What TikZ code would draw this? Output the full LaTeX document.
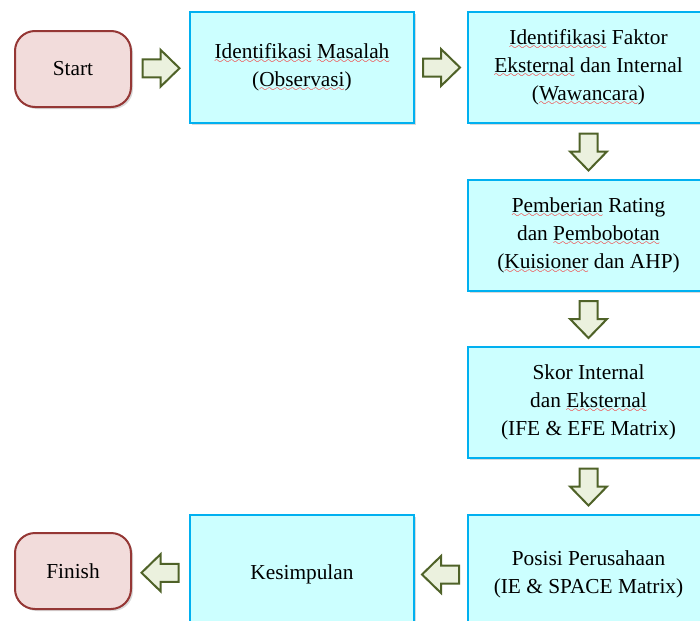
\documentclass[tikz,border=0pt]{standalone}
\usepackage{fontspec}
\setmainfont{Liberation Serif}
\usetikzlibrary{shadows,calc}

\definecolor{boxfill}{RGB}{204,255,255}
\definecolor{boxline}{RGB}{0,176,240}
\definecolor{termfill}{RGB}{242,220,219}
\definecolor{termline}{RGB}{149,55,53}
\definecolor{arrfill}{RGB}{235,241,222}
\definecolor{arrline}{RGB}{79,98,40}

% red wavy underline of the spell checker
\font\wavefont=lasy7
\newcommand{\typo}[1]{\setbox0\hbox{#1}\leavevmode\rlap{\lower3.4pt\hbox to \wd0{\color{red}\xleaders\hbox{\wavefont\char58}\hfil}}\box0\relax}

\tikzset{
  stepbox/.style={draw=boxline, fill=boxfill, line width=1.5pt, align=center,
    inner sep=0pt, minimum height=83.25pt,
    drop shadow={shadow xshift=1.5pt, shadow yshift=-1.5pt, opacity=0.3}},
  endbox/.style={draw=termline, fill=termfill, line width=1.5pt, rounded corners=15pt,
    inner sep=0pt, minimum width=87pt, minimum height=57pt,
    drop shadow={shadow xshift=1.5pt, shadow yshift=-1.5pt, opacity=0.3}},
  blockarrow/.pic={
    \draw[draw=arrline, fill=arrfill, line width=1.5pt, line join=miter]
      (-18,-9) -- (0,-9) -- (0,-18.5) -- (19,0) -- (0,18.5) -- (0,9) -- (-18,9) -- cycle;
  }
}

\begin{document}
\begin{tikzpicture}[x=0.75pt,y=0.75pt,yscale=-1,xscale=1,
  every node/.style={font=\fontsize{16}{21}\selectfont}]
	\useasboundingbox (0,0) rectangle (700,621);
	\clip (0,0) rectangle (700,621);
	% top row
	\node[endbox] (start) at (73,69) {Start};
	\node[stepbox, minimum width=168pt] (masalah) at (302,67.5) {\typo{Identifikasi} \typo{Masalah}\\(\typo{Observasi})};
	\node[stepbox, minimum width=180.75pt] (faktor) at (588.5,67.5) {\typo{Identifikasi} Faktor\\\typo{Eksternal} dan Internal\\(\typo{Wawancara})};
	% right column
	\node[stepbox, minimum width=180.75pt] (rating) at (588.5,235.5) {\typo{Pemberian} Rating\\dan \typo{Pembobotan}\\(\typo{Kuisioner} dan AHP)};
	\node[stepbox, minimum width=180.75pt] (skor) at (588.5,402.5) {Skor Internal\\dan \typo{Eksternal}\\(IFE \& EFE Matrix)};
	\node[stepbox, minimum width=180.75pt, minimum height=89.25pt] (posisi) at (588.5,574.5) {Posisi Perusahaan\\(IE \& SPACE Matrix)};
	% bottom row
	\node[stepbox, minimum width=168pt, minimum height=89.25pt] (simpul) at (302,574.5) {Kesimpulan};
	\node[endbox] (finish) at (73,571) {Finish};
	% block arrows
	\pic at ($(start.east)!0.5!(masalah.west)$) {blockarrow};
	\pic at ($(masalah.east)!0.5!(faktor.west)$) {blockarrow};
	\pic[rotate=-90] at ($(faktor.south)!0.5!(rating.north)$) {blockarrow};
	\pic[rotate=-90] at ($(rating.south)!0.5!(skor.north)$) {blockarrow};
	\pic[rotate=-90] at ($(skor.south)!0.5!(posisi.north)$) {blockarrow};
	\pic[rotate=180] at ($(posisi.west)!0.5!(simpul.east)$) {blockarrow};
	\pic[rotate=180] at ($(simpul.west)!0.5!(finish.east)$) {blockarrow};
\end{tikzpicture}
\end{document}
